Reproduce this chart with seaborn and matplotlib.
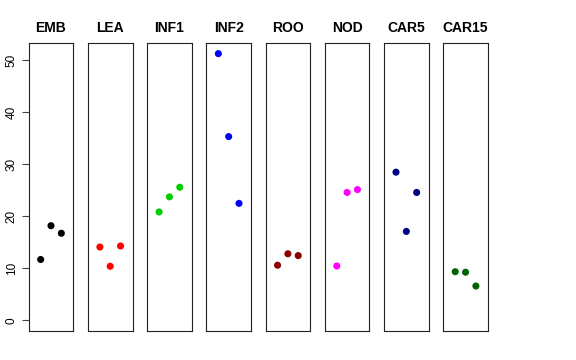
import matplotlib
matplotlib.use('Agg')
import matplotlib.pyplot as plt
import seaborn as sns
import pandas as pd

# значения по тканям (3 повтора в каждой)
tissues = ['EMB', 'LEA', 'INF1', 'INF2', 'ROO', 'NOD', 'CAR5', 'CAR15']
colors = ['black', 'red', '#00CD00', 'blue', '#8B0000', 'magenta', '#000080', '#006400']
replicate = [1, 2, 3]
emb = [11.7, 18.2, 16.75]
lea = [14.1, 10.4, 14.3]
inf1 = [20.85, 23.75, 25.6]
inf2 = [51.3, 35.35, 22.5]
roo = [10.6, 12.8, 12.45]
nod = [10.45, 24.6, 25.15]
car5 = [28.5, 17.1, 24.6]
car15 = [9.35, 9.25, 6.6]
values = [emb, lea, inf1, inf2, roo, nod, car5, car15]

rows = []
for t, v in zip(tissues, values):
    for r, y in zip(replicate, v):
        rows.append({'tissue': t, 'rep': r, 'value': y})
df = pd.DataFrame(rows)

sns.set_style('white')
plt.rcParams['font.family'] = ['Liberation Sans', 'DejaVu Sans']
plt.rcParams['text.color'] = 'black'
plt.rcParams['ytick.color'] = 'black'
plt.rcParams['ytick.labelcolor'] = 'black'

fig, axes = plt.subplots(1, 8, figsize=(5.76, 3.6), dpi=100, sharey=True)
fig.subplots_adjust(left=0.0498, right=0.847, top=0.8806, bottom=0.0806, wspace=0.327)

ymax = max(max(v) for v in values)
for i, (ax, t, c) in enumerate(zip(axes, tissues, colors)):
    sub = df[df['tissue'] == t]
    sns.scatterplot(data=sub, x='rep', y='value', color=c, s=26, edgecolor='none', ax=ax, legend=False)
    ax.set_xlim(-0.16, 4.16)
    ax.set_ylim(-0.04 * ymax, 1.04 * ymax)
    ax.set_xticks([])
    ax.set_xlabel('')
    ax.set_ylabel('')
    ax.set_title(t, fontsize=10, fontweight='bold', pad=8, color='black')
    for sp in ax.spines.values():
        sp.set_visible(True)
        sp.set_color('#222222')
        sp.set_linewidth(0.8)
    if i == 0:
        ax.set_yticks([0, 10, 20, 30, 40, 50])
        ax.tick_params(axis='y', left=True, length=5, width=0.8, color='#444444',
                       labelcolor='black', labelsize=8.5, pad=3, labelrotation=90)
        for lbl in ax.get_yticklabels():
            lbl.set_verticalalignment('center')
    else:
        ax.tick_params(axis='y', left=False)

plt.savefig('out.png', dpi=100)
